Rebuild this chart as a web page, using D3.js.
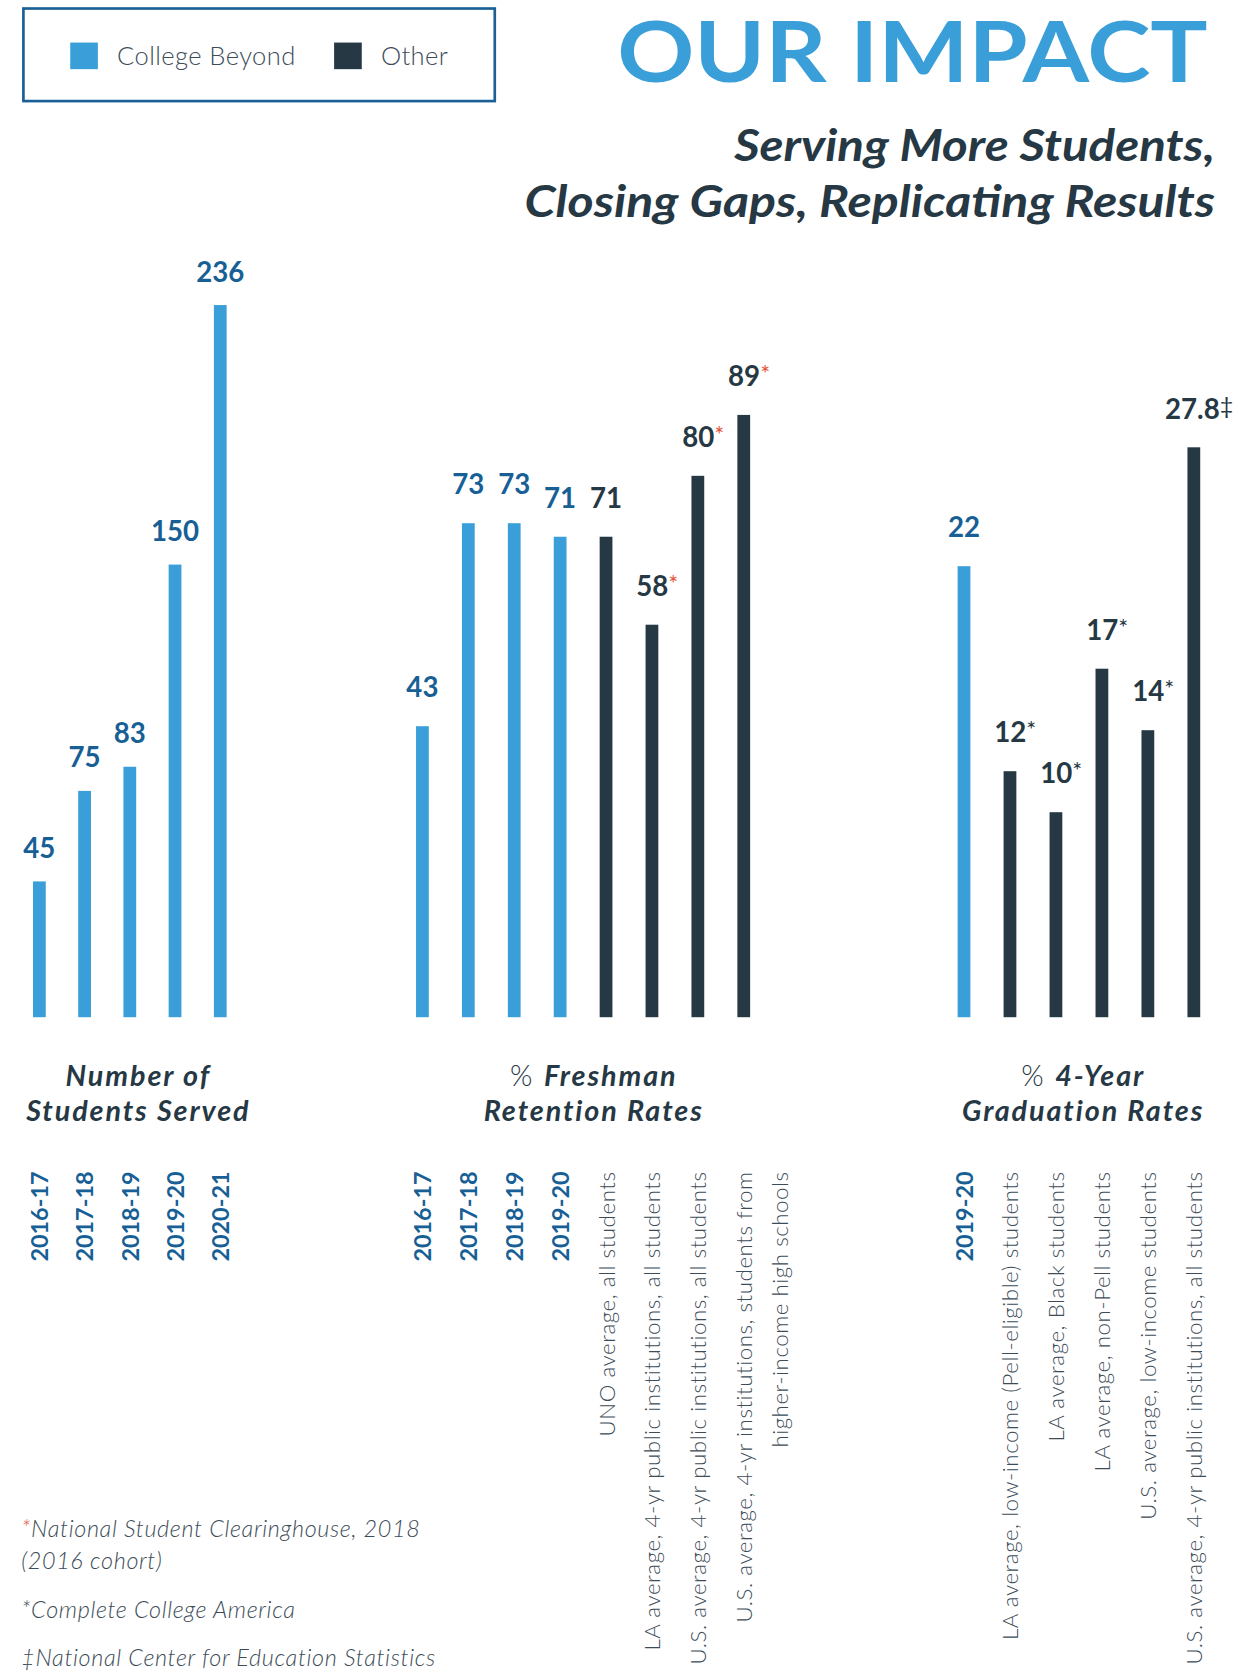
<!DOCTYPE html>
<html><head><meta charset="utf-8">
<script src="https://cdn.jsdelivr.net/npm/d3@7"></script>
<style>html,body{margin:0;padding:0;background:#fff;} svg{display:block;}</style>
</head><body>
<svg id="chart" width="1258" height="1672" viewBox="0 0 1182.3 1571.4" preserveAspectRatio="none"></svg>
<script>
// ---- data ----
const servedCategories = ["2016-17","2017-18","2018-19","2019-20","2020-21"];
const servedValues = [45, 75, 83, 150, 236];
const servedGroups = ["cb","cb","cb","cb","cb"];
const servedMarks = ["","","","",""];

const retentionCategories = ["2016-17","2017-18","2018-19","2019-20",
  "UNO average, all students",
  "LA average, 4-yr public institutions, all students",
  "U.S. average, 4-yr public institutions, all students",
  "U.S. average, 4-yr institutions, students from|higher-income high schools"];
const retentionValues = [43, 73, 73, 71, 71, 58, 80, 89];
const retentionGroups = ["cb","cb","cb","cb","other","other","other","other"];
const retentionMarks = ["","","","","","*","*","*"];

const gradCategories = ["2019-20",
  "LA average, low-income (Pell-eligible) students",
  "LA average, Black students",
  "LA average, non-Pell students",
  "U.S. average, low-income students",
  "U.S. average, 4-yr public institutions, all students"];
const gradValues = [22, 12, 10, 17, 14, 27.8];
const gradGroups = ["cb","other","other","other","other","other"];
const gradMarks = ["","*","*","*","*","‡"];

const legendLabels = ["College Beyond","Other"];
const footnotes = ["*National Student Clearinghouse, 2018","(2016 cohort)","*Complete College America","‡National Center for Education Statistics"];

// ---- style ----
const BLUE = "#3a9fd9", DARK = "#263844", LBLUE = "#175f95", RED = "#e8553a", GREY = "#3d4c57";
const F = "Lato, 'Open Sans', sans-serif";
const svg = d3.select("#chart");
const color = d3.scaleOrdinal().domain(["cb","other"]).range([BLUE, DARK]);

// legend
svg.append("rect").attr("x",22).attr("y",8).attr("width",443).attr("height",87)
  .attr("fill","none").attr("stroke","#1a6094").attr("stroke-width",2.5);
const lg = [{k:"cb",x:66,t:legendLabels[0]},{k:"other",x:314,t:legendLabels[1]}];
lg.forEach(d=>{
  svg.append("rect").attr("x",d.x).attr("y",40).attr("width",26).attr("height",25).attr("fill",color(d.k));
  svg.append("text").attr("x",d.x+44).attr("y",61).attr("font-family",F).attr("font-weight",300)
    .attr("font-size",24).attr("fill",GREY).attr("letter-spacing",0.4).text(d.t);
});

// title
svg.append("text").attr("x",1135).attr("y",77).attr("text-anchor","end")
  .attr("font-family",F).attr("font-weight",700).attr("font-size",79).attr("fill",BLUE)
  .attr("textLength",555).attr("lengthAdjust","spacingAndGlyphs").text("OUR IMPACT");
svg.append("text").attr("x",1142).attr("y",151).attr("text-anchor","end")
  .attr("font-family",F).attr("font-weight",700).attr("font-style","italic").attr("font-size",41).attr("fill",DARK)
  .attr("textLength",452).attr("lengthAdjust","spacingAndGlyphs").text("Serving More Students,");
svg.append("text").attr("x",1142).attr("y",204).attr("text-anchor","end")
  .attr("font-family",F).attr("font-weight",700).attr("font-style","italic").attr("font-size",41).attr("fill",DARK)
  .attr("textLength",649).attr("lengthAdjust","spacingAndGlyphs").text("Closing Gaps, Replicating Results");

const BASE = 956;
function panel(cats, vals, groups, marks, xr, yMax, yTop, markColor, off){
  const x = d3.scalePoint().domain(cats).range(xr);
  const y = d3.scaleLinear().domain([0,yMax]).range([BASE, yTop]);
  const data = cats.map((c,i)=>({c, v:vals[i], g:groups[i], m:marks[i]}));
  const g = svg.append("g");
  g.selectAll("rect.bar").data(data).join("rect").attr("class","bar")
    .attr("x",d=>x(d.c)-6).attr("width",12)
    .attr("y",d=>y(d.v)).attr("height",d=>BASE-y(d.v))
    .attr("fill",d=>color(d.g));
  const lab = g.selectAll("text.val").data(data).join("text").attr("class","val")
    .attr("x",d=>x(d.c) + (d.m ? 5 : 0)).attr("y",d=>y(d.v)-off)
    .attr("text-anchor","middle").attr("font-family",F).attr("font-weight",700).attr("font-size",26)
    .attr("fill",d=>d.g==="cb"?LBLUE:DARK);
  lab.append("tspan").text(d=>d.v);
  lab.append("tspan").attr("dy",-4).attr("font-size",22).attr("font-weight",400)
    .attr("fill",markColor).text(d=>d.m);
  // category labels rotated
  const cl = g.selectAll("text.cat").data(data).join("text").attr("class","cat")
    .attr("transform",d=>`translate(${x(d.c)},1101) rotate(-90)`)
    .attr("text-anchor","end").attr("font-family",F)
    .attr("font-weight",d=>d.g==="cb"?700:300)
    .attr("font-size",d=>d.g==="cb"?22:21)
    .attr("letter-spacing",d=>d.g==="cb"?0:0.5)
    .attr("fill",d=>d.g==="cb"?LBLUE:GREY);
  cl.each(function(d){
    const lines = d.c.split("|");
    const sel = d3.select(this);
    lines.forEach((t,i)=>{
      sel.append("tspan").attr("x",0).attr("dy", i===0?"0.38em":"1.6em").text(t);
    });
  });
  return x;
}
panel(servedCategories, servedValues, servedGroups, servedMarks, [37,207], 250, 247, DARK, 22);
panel(retentionCategories, retentionValues, retentionGroups, retentionMarks, [397,699], 100, 320, RED, 27);
panel(gradCategories, gradValues, gradGroups, gradMarks, [906,1122], 30, 378, DARK, 27);

// panel titles
function ptitle(cx, lines){
  lines.forEach((ln,i)=>{
    const t = svg.append("text").attr("x",cx).attr("y",[1021,1054][i]).attr("text-anchor","middle")
      .attr("font-family",F).attr("font-size",27).attr("fill",DARK).attr("letter-spacing",1.8);
    ln.forEach(p=>{
      t.append("tspan").attr("font-weight",p[1]?700:300).attr("font-style",p[1]?"italic":"normal").text(p[0]);
    });
  });
}
ptitle(130, [[["Number of",1]],[["Students Served",1]]]);
ptitle(558, [[["% ",0],["Freshman",1]],[["Retention Rates",1]]]);
ptitle(1018, [[["% ",0],["4-Year",1]],[["Graduation Rates",1]]]);

// footnotes
const fy = [1445, 1475, 1521, 1566];
footnotes.forEach((t,i)=>{
  const tx = svg.append("text").attr("x",20).attr("y",fy[i]).attr("font-family",F).attr("font-weight",300)
    .attr("font-style","italic").attr("font-size",22).attr("fill",GREY).attr("letter-spacing",0.6);
  if(i===0){ tx.append("tspan").attr("fill",RED).text("*"); tx.append("tspan").text(t.slice(1)); }
  else tx.text(t);
});
</script>
</body></html>
